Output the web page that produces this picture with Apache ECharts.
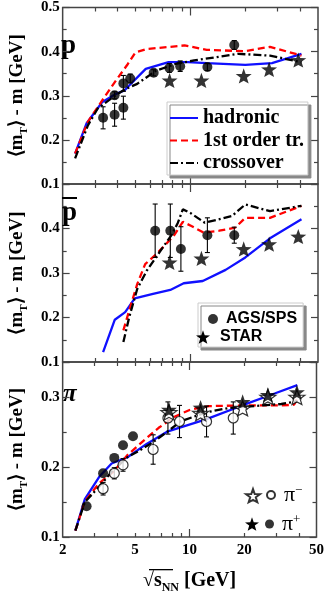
<!DOCTYPE html>
<html><head><meta charset="utf-8">
<script src="https://cdn.jsdelivr.net/npm/echarts@6/dist/echarts.min.js"></script>
<style>html,body{margin:0;padding:0;background:#fff}#c{width:327px;height:595px}</style>
</head><body><div id="c"></div>
<script>
// ---- tick labels ----
const xTickLabels = [2, 5, 10, 20, 50];
const xMinorTicks = [3, 4, 5, 6, 7, 8, 9, 20, 30, 40];
const xMajorTicks = [10];

// ---- panel 1: protons ----
const hadronicP = [[2.34,0.169],[2.7,0.237],[3.3,0.286],[3.86,0.303],[4.36,0.312],[4.6,0.322],[5.7,0.361],[7.6,0.376],[9.7,0.376],[12.3,0.374],[20,0.370],[28,0.374],[40.6,0.395]];
const firstOrderP = [[2.34,0.169],[2.75,0.241],[3.3,0.290],[3.86,0.331],[4.55,0.372],[5.0,0.398],[5.8,0.406],[9.3,0.414],[12.3,0.404],[20,0.401],[27.3,0.411],[40.6,0.391]];
const crossoverP = [[2.34,0.158],[2.75,0.233],[3.11,0.271],[3.86,0.300],[4.45,0.316],[5.12,0.327],[6.5,0.357],[8.3,0.372],[10.5,0.380],[18.3,0.395],[27.3,0.391],[40.6,0.376]];
const agsP = [[3.33,0.250,0.025],[3.85,0.257,0.026],[3.85,0.301,0.008],[4.3,0.273,0.026],[4.3,0.328,0.018],[4.69,0.339,0.010],[6.3,0.352,0.007],[7.68,0.363,0.010],[8.8,0.367,0.012],[12.4,0.365,0.008],[17.4,0.415,0.010]];
const starP = [[7.7,0.335],[11.5,0.335],[19.6,0.345],[27,0.360],[39,0.381]];

// ---- panel 2: antiprotons ----
const hadronicPbar = [[3.33,0.122],[3.86,0.195],[4.4,0.212],[4.96,0.243],[6.25,0.253],[7.77,0.262],[9.2,0.277],[11.7,0.282],[15.6,0.307],[20,0.335],[27.3,0.378],[40.6,0.421]];
const firstOrderPbar = [[4.3,0.171],[4.63,0.216],[5.12,0.275],[5.66,0.320],[6.5,0.342],[7.05,0.357],[8.1,0.383],[9.1,0.415],[10.2,0.405],[11.8,0.391],[14.4,0.395],[17.6,0.402],[20,0.424],[27.3,0.424],[34.6,0.440],[40.6,0.451]];
const crossoverPbar = [[4.3,0.145],[4.63,0.201],[5.12,0.264],[5.77,0.305],[6.76,0.346],[7.94,0.387],[8.55,0.413],[9.1,0.443],[10,0.435],[12,0.413],[16.9,0.428],[20,0.454],[27.3,0.439],[40.6,0.451]];
const agsPbar = [[6.42,0.395,0.06],[7.77,0.395,0.06],[8.88,0.354,0.05],[12.4,0.385,0.039],[17.4,0.385,0.018]];
const starPbar = [[7.7,0.324],[11.5,0.333],[19.6,0.354],[27,0.365],[39,0.382]];

// ---- panel 3: pions ----
const hadronicPi = [[2.35,0.109],[2.65,0.154],[3.18,0.186],[3.72,0.205],[4.55,0.214],[5.8,0.233],[7.6,0.251],[12.3,0.268],[20,0.289],[29.4,0.305],[39.2,0.317]];
const firstOrderPi = [[2.35,0.109],[2.65,0.151],[3.18,0.177],[3.8,0.193],[4.55,0.217],[5.55,0.237],[6.76,0.256],[8.3,0.272],[10.1,0.282],[12.8,0.287],[20,0.288],[32,0.288],[37.6,0.289],[39.7,0.300]];
const crossoverPi = [[2.35,0.109],[2.65,0.150],[3.18,0.172],[3.72,0.193],[4.55,0.214],[5.33,0.224],[6.25,0.235],[7.6,0.251],[8.9,0.265],[12.3,0.278],[16.2,0.284],[20,0.286],[32,0.290],[39.2,0.294]];
const piPlusAGS = [[2.71,0.144],[3.34,0.191],[3.85,0.213],[4.3,0.231],[4.88,0.244]];
const piMinusAGS = [[3.34,0.169,0.009],[3.85,0.191,0.008],[4.3,0.203,0.009],[6.3,0.225,0.021],[7.6,0.270,0.023],[8.8,0.265,0.023],[12.4,0.265,0.022],[17.4,0.270,0.023]];
const piPlusSTAR = [[7.7,0.282],[11.5,0.285],[19.6,0.293],[27,0.303],[39,0.307]];
const piMinusSTAR = [[7.7,0.278],[11.5,0.277],[19.6,0.284],[27,0.300],[39,0.300]];

const SERIF = '"Liberation Serif", "Times New Roman", serif';
const SANS = '"Liberation Sans", Arial, sans-serif';
const STAR = 'path://M0,-10L2.35,-3.24L9.51,-3.09L3.8,1.24L5.88,8.09L0,4.9L-5.88,8.09L-3.8,1.24L-9.51,-3.09L-2.35,-3.24Z';
const AX = '#444';

const grids = [
  {left: 48, right: 9, top: 7, height: 177},
  {left: 48, right: 9, top: 184, height: 178},
  {left: 48, right: 9, top: 362, height: 178}
].map(g => Object.assign(g, {show: true, borderColor: AX, borderWidth: 1.5, backgroundColor: 'transparent'}));

function xAx(gi, pos, ticks, len, labels) {
  const a = {
    type: 'log', logBase: 10, min: 2, max: 50, gridIndex: gi, position: pos,
    axisLine: {show: false}, splitLine: {show: false},
    axisTick: {show: true, inside: true, length: len, customValues: ticks, lineStyle: {color: AX, width: 1.2}},
    axisLabel: {show: false}
  };
  if (labels) {
    a.axisLabel = {show: true, customValues: xTickLabels, margin: 6, color: '#000',
      fontFamily: SERIF, fontWeight: 'bold', fontSize: 15, formatter: v => String(Math.round(v))};
    a.name = '{r|√}{s|s}{n|NN}{g| [GeV]}';
    a.nameLocation = 'middle';
    a.nameGap = 32;
    a.nameTextStyle = {color: '#000', fontFamily: SERIF, fontWeight: 'bold', rich: {
      r: {fontSize: 20, fontFamily: SERIF, fontWeight: 'bold', verticalAlign: 'bottom', lineHeight: 22},
      s: {fontSize: 20, fontFamily: SERIF, fontWeight: 'bold', verticalAlign: 'bottom', lineHeight: 22},
      n: {fontSize: 12, fontFamily: SERIF, fontWeight: 'bold', verticalAlign: 'bottom', lineHeight: 12, padding: [0, 0, -3, 0]},
      g: {fontSize: 20, fontFamily: SERIF, fontWeight: 'bold', verticalAlign: 'bottom', lineHeight: 22}
    }};
  }
  return a;
}
const xAxes = [];
for (let gi = 0; gi < 3; gi++) {
  xAxes.push(xAx(gi, 'bottom', xMinorTicks, 4, gi === 2));
  xAxes.push(xAx(gi, 'bottom', xMajorTicks, 8, false));
  xAxes.push(xAx(gi, 'top', xMinorTicks, 4, false));
  xAxes.push(xAx(gi, 'top', xMajorTicks, 8, false));
}

const yRanges = [[0.1, 0.5, true], [0.1, 0.5, false], [0.1, 0.35, false]];
const yAxes = [];
yRanges.forEach((r, gi) => {
  const base = {
    type: 'value', min: r[0], max: r[1], interval: 0.1, gridIndex: gi,
    axisLine: {show: false}, splitLine: {show: false},
    axisTick: {show: true, inside: true, length: 7, lineStyle: {color: AX, width: 1.2}},
    minorTick: {show: true, splitNumber: 2, length: 4, lineStyle: {color: AX, width: 1.2}}
  };
  yAxes.push(Object.assign({}, base, {
    position: 'left',
    axisLabel: {show: true, margin: 3, color: '#000', fontFamily: SERIF, fontWeight: 'bold', fontSize: 15,
      showMaxLabel: r[2], showMinLabel: true, formatter: v => v.toFixed(1)},
    name: '{a|⟨m}{t|T}{a|⟩ - m [GeV]}', nameLocation: 'middle', nameGap: 30,
    nameTextStyle: {color: '#000', rich: {
      a: {fontSize: 19, fontFamily: SERIF, fontWeight: 'bold', color: '#000', verticalAlign: 'bottom', lineHeight: 20},
      t: {fontSize: 11, fontFamily: SERIF, fontWeight: 'bold', color: '#000', verticalAlign: 'bottom', lineHeight: 11, padding: [0, 0, -3, 0]}
    }}
  }));
  yAxes.push(Object.assign({}, base, {position: 'right', axisLabel: {show: false}}));
});

function lineS(name, data, gi, color, type) {
  return {type: 'line', name, data, xAxisIndex: gi * 4, yAxisIndex: gi * 2, symbol: 'none',
    lineStyle: {color, width: 2.3, type}, itemStyle: {color}, z: 2, silent: true};
}
function errS(name, data, gi) {
  return {type: 'custom', name, data, xAxisIndex: gi * 4, yAxisIndex: gi * 2, z: 3, silent: true,
    encode: {x: 0, y: 1},
    renderItem: (params, api) => {
      const x = api.value(0), y = api.value(1), e = api.value(2);
      const lo = api.coord([x, y - e]), hi = api.coord([x, y + e]);
      const w = 2.5, st = {stroke: '#000', lineWidth: 1.1};
      return {type: 'group', children: [
        {type: 'line', shape: {x1: lo[0], y1: lo[1], x2: hi[0], y2: hi[1]}, style: st},
        {type: 'line', shape: {x1: lo[0] - w, y1: lo[1], x2: lo[0] + w, y2: lo[1]}, style: st},
        {type: 'line', shape: {x1: hi[0] - w, y1: hi[1], x2: hi[0] + w, y2: hi[1]}, style: st}
      ]};
    }};
}
function scatS(name, data, gi, symbol, size, filled, z) {
  return {type: 'scatter', name, data: data.map(d => [d[0], d[1]]), xAxisIndex: gi * 4, yAxisIndex: gi * 2,
    symbol, symbolSize: size, symbolKeepAspect: true, z: z || 4, silent: true,
    itemStyle: filled ? {color: '#000', borderColor: '#000', borderWidth: 0}
                      : {color: '#fff', borderColor: '#000', borderWidth: 1.2}};
}

const BLUE = '#1010ff', RED = '#ff0000', BLK = '#000';
const DASH = [7, 4], DASHDOT = [8, 3, 2, 3];
const series = [
  lineS('hadronic', hadronicP, 0, BLUE, 'solid'),
  lineS('1st order tr.', firstOrderP, 0, RED, DASH),
  lineS('crossover', crossoverP, 0, BLK, DASHDOT),
  errS('errP', agsP, 0),
  scatS('AGS/SPS', agsP, 0, 'circle', 10, true),
  scatS('STAR', starP, 0, STAR, 16, true),

  lineS('hadronic', hadronicPbar, 1, BLUE, 'solid'),
  lineS('1st order tr.', firstOrderPbar, 1, RED, DASH),
  lineS('crossover', crossoverPbar, 1, BLK, DASHDOT),
  errS('errPbar', agsPbar, 1),
  scatS('AGS/SPS', agsPbar, 1, 'circle', 10, true),
  scatS('STAR', starPbar, 1, STAR, 16, true),

  lineS('hadronic', hadronicPi, 2, BLUE, 'solid'),
  lineS('1st order tr.', firstOrderPi, 2, RED, DASH),
  lineS('crossover', crossoverPi, 2, BLK, DASHDOT),
  errS('errPi', piMinusAGS, 2),
  scatS('π⁻', piMinusAGS, 2, 'circle', 10, false),
  scatS('π⁺', piPlusAGS, 2, 'circle', 10, true),
  scatS('π⁻ STAR', piMinusSTAR, 2, STAR, 16, false, 4),
  scatS('π⁺ STAR', piPlusSTAR, 2, STAR, 16, true, 5)
];

const piRich = {
  p: {fontSize: 22, fontFamily: SERIF, color: '#000'},
  s: {fontSize: 13, fontFamily: SERIF, color: '#000', verticalAlign: 'top', padding: [0, 0, 8, 0]}
};
const legends = [
  {data: ['hadronic', '1st order tr.', 'crossover'], orient: 'vertical', left: 167, top: 102,
   itemWidth: 28, itemHeight: 14, itemGap: 2.5, padding: [6, 4, 2, 2], selectedMode: false,
   backgroundColor: '#fff', borderColor: '#ccc', borderWidth: 1,
   shadowColor: '#888', shadowBlur: 0, shadowOffsetX: 3, shadowOffsetY: 3,
   itemStyle: {opacity: 0, color: 'rgba(0,0,0,0)', borderWidth: 0},
   textStyle: {fontFamily: SERIF, fontWeight: 'bold', fontSize: 20, lineHeight: 20, color: '#000'}},
  {data: ['AGS/SPS'], left: 198, top: 303, itemWidth: 10, itemHeight: 10, padding: [8, 6, 20, 10],
   selectedMode: false, backgroundColor: '#fff', borderColor: '#ccc', borderWidth: 1, z: 5,
   shadowColor: '#888', shadowBlur: 0, shadowOffsetX: 3, shadowOffsetY: 3,
   textStyle: {fontFamily: SANS, fontWeight: 'bold', fontSize: 16, lineHeight: 16, color: '#000', padding: [0, 0, 0, 3]}},
  {data: ['STAR'], left: 196, top: 329, itemWidth: 14, itemHeight: 14, padding: 0, selectedMode: false, z: 6,
   itemStyle: {color: '#000', opacity: 1},
   textStyle: {fontFamily: SANS, fontWeight: 'bold', fontSize: 16, lineHeight: 16, color: '#000', padding: [0, 0, 0, 5]}},
  {data: ['π⁻ STAR'], left: 245, top: 488, itemWidth: 14, itemHeight: 14, padding: 0, selectedMode: false,
   formatter: () => ''},
  {data: ['π⁻'], left: 266, top: 484, itemWidth: 8, itemHeight: 8, padding: 0, selectedMode: false,
   formatter: () => '{p|π}{s|−}', textStyle: {rich: piRich, padding: [0, 0, 0, 4]}},
  {data: ['π⁺ STAR'], left: 245, top: 517, itemWidth: 14, itemHeight: 14, padding: 0, selectedMode: false,
   itemStyle: {color: '#000', opacity: 1}, formatter: () => ''},
  {data: ['π⁺'], left: 265, top: 513, itemWidth: 9, itemHeight: 9, padding: 0, selectedMode: false,
   formatter: () => '{p|π}{s|+}', textStyle: {rich: piRich, padding: [0, 0, 0, 3]}}
];

const graphic = [
  {type: 'text', left: 61, top: 33, style: {text: 'p', font: 'bold 27px ' + SERIF, fill: '#000'}},
  {type: 'text', left: 62, top: 200, style: {text: 'p', font: 'bold 27px ' + SERIF, fill: '#000'}},
  {type: 'rect', left: 62, top: 197, shape: {width: 15, height: 2}, style: {fill: '#000'}},
  {type: 'text', left: 63, top: 382, style: {text: 'π', font: 'italic bold 25px ' + SERIF, fill: '#000'}},
  {type: 'rect', left: 149, top: 569, shape: {width: 24, height: 1.3}, style: {fill: '#000'}}
];

const chart = echarts.init(document.getElementById('c'), null, {renderer: 'canvas'});
chart.setOption({
  animation: false,
  backgroundColor: '#fff',
  grid: grids, xAxis: xAxes, yAxis: yAxes, series, legend: legends, graphic
});
</script></body></html>
